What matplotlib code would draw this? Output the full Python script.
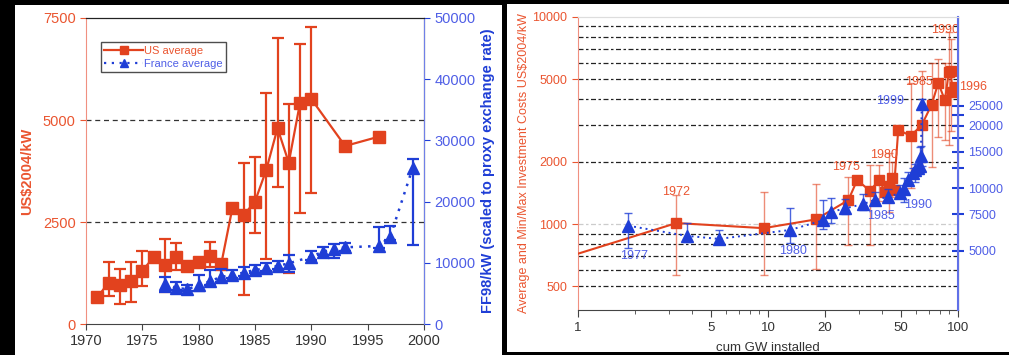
import numpy as np
import matplotlib.pyplot as plt
from matplotlib.patches import Rectangle
from matplotlib.ticker import FixedLocator, NullFormatter
from matplotlib.lines import Line2D

plt.rcParams['font.family'] = ['Liberation Sans', 'DejaVu Sans']

RED = '#e2421e'
RED_TXT = '#ea5530'
BLUE = '#1f3ed6'
BLUE_TXT = '#4f5ee6'
nan = np.nan

# US reactors: average cost (US$2004/kW) with min/max range
us_years = [1971, 1972, 1973, 1974, 1975, 1976, 1977, 1978, 1979, 1980, 1981,
            1982, 1983, 1984, 1985, 1986, 1987, 1988, 1989, 1990, 1993, 1996]
us_cost = [650, 1012, 956, 1054, 1306, 1634, 1446, 1634, 1422, 1527, 1667,
           1463, 2850, 2670, 3000, 3775, 4800, 3955, 5424, 5515, 4363, 4592]
us_min = [nan, 686, 483, 547, 931, nan, 777, 1324, nan, nan, 1405,
          nan, nan, 711, 2223, 1585, 3365, 1242, 2730, 3203, nan, nan]
us_max = [nan, 1527, 1340, 1527, 1797, nan, 2075, 1993, nan, nan, 2017,
          nan, nan, 3938, 4104, 5674, 7000, 5392, 6863, 7270, nan, nan]

# US cumulative capacity (GW) and min/max used in the learning curve
us_cum_gw = [0.7, 3.3, 9.5, 17.9, 26.5, 29.5, 34.4, 38.5, 41.5, 43.5, 44.7,
             46.0, 48.5, 56.4, 64.4, 72.7, 78.8, 85.4, 89.5, 91.5, 93.5, 96.0]
us_min_lc = [nan, 570, 571, 604, 792, nan, 792, 1300, nan, 1150, 1350,
             nan, nan, 1500, 1800, 1893, 2625, 2545, 2400, 2800, nan, nan]
us_max_lc = [nan, 1380, 1433, 1560, 1680, nan, 1928, 1928, nan, 2196, 2000,
             nan, nan, 4800, 5500, 5970, 6242, 6000, 8500, 7800, nan, nan]

# French reactors: average cost (FF98/kW) with min/max range
fr_years = [1977, 1978, 1979, 1980, 1981, 1982, 1983, 1984, 1985, 1986, 1987,
            1988, 1990, 1991, 1992, 1993, 1996, 1997, 1999]
fr_cost = [6600, 5900, 5700, 6300, 7000, 7700, 8000, 8400, 8820, 9100, 9480,
           9910, 11000, 11800, 12200, 12530, 12750, 14270, 25500]
fr_min = [5180, 5500, 5400, 5440, 6370, 6800, 7500, 7900, 8300, 8600, 9000,
          8550, 10500, 11300, 10730, 12000, 12400, 13800, 12860]
fr_max = [7630, 6800, 6300, 8010, 8820, 8990, 8900, 9360, 9640, 9910, 10340,
          11270, 11930, 12530, 13070, 13290, 15800, 16010, 27000]
fr_cum_gw = [1.84, 3.73, 5.52, 13.1, 19.4, 21.6, 25.4, 31.8, 36.6, 43.0, 49.4,
             52.0, 54.6, 57.8, 59.5, 61.3, 63.0, 63.8, 64.5]

us_labels = [1972, 1975, 1980, 1985, 1990, 1996]
us_label_offsets = [(0, 22), (-2, 24), (-4, 22), (-2, 31), (-4, 29), (3, 0)]
fr_labels = [1977, 1980, 1985, 1990, 1999]
fr_label_offsets = [(4, -22), (2, -15), (4, -12), (7, -18), (-13, 2)]


def err(vals, lo, hi):
    vals, lo, hi = map(np.asarray, (vals, lo, hi))
    m = ~np.isnan(lo)
    return m, np.vstack([vals[m] - lo[m], hi[m] - vals[m]])


fig = plt.figure(figsize=(10.09, 3.55), dpi=100)
fig.patch.set_facecolor('black')
fig.add_artist(Rectangle((0.0149, 0.0), 0.4826, 0.986, transform=fig.transFigure,
                         facecolor='white', edgecolor='none', zorder=-1))
fig.add_artist(Rectangle((0.5025, 0.008), 0.4975, 0.98, transform=fig.transFigure,
                         facecolor='white', edgecolor='none', zorder=-1))

# ---- left: cost by year ----
ax = fig.add_axes([0.0852, 0.0873, 0.335, 0.862])
axr = ax.twinx()
ax.set_xlim(1970, 2000)
ax.set_ylim(0, 7500)
axr.set_ylim(0, 50000)

for y in (2500, 5000):
    ax.axhline(y, color='#333333', lw=0.9, ls=(0, (4, 3)), zorder=1)

years = np.array(us_years)
m, e = err(us_cost, us_min, us_max)
ax.errorbar(years[m], np.array(us_cost)[m], yerr=e, fmt='none', ecolor=RED,
            elinewidth=1.6, capsize=4, capthick=1.6, zorder=3)
ax.plot(us_years, us_cost, color=RED, lw=1.6, marker='s', ms=9, zorder=4)

fyears = np.array(fr_years)
m, e = err(fr_cost, fr_min, fr_max)
axr.errorbar(fyears, fr_cost, yerr=e, fmt='none', ecolor=BLUE,
             elinewidth=1.6, capsize=4, capthick=1.6, zorder=3)
axr.plot(fr_years, fr_cost, color=BLUE, lw=1.8, ls=(0, (1, 2.5)), marker='^', ms=9, zorder=4)

ax.set_xticks(range(1970, 2001, 5))
ax.set_yticks([0, 2500, 5000, 7500])
axr.set_yticks(range(0, 50001, 10000))
ax.tick_params(axis='x', colors='#444444', labelsize=10.5, length=4, labelcolor='#333333')
ax.tick_params(axis='y', colors=RED_TXT, labelsize=10.5, length=4)
axr.tick_params(axis='y', colors=BLUE, labelsize=10.5, length=4, labelcolor=BLUE_TXT)
ax.spines['left'].set_color('#f09080')
ax.spines['bottom'].set_color('#444444')
ax.spines['top'].set_color('#222222')
axr.spines['right'].set_color('#7080e8')
axr.spines['left'].set_visible(False)
axr.spines['top'].set_color('#222222')
axr.spines['bottom'].set_visible(False)
ax.set_ylabel('US$2004/kW', color=RED_TXT, fontsize=10.5, fontweight='bold', labelpad=6)
axr.set_ylabel('FF98/kW (scaled to proxy exchange rate)', color=BLUE, fontsize=10.5,
               fontweight='bold', labelpad=4)

handles = [Line2D([], [], color=RED, lw=1.6, marker='s', ms=6),
           Line2D([], [], color=BLUE, lw=1.6, ls=(0, (1, 2.5)), marker='^', ms=6)]
leg = axr.legend(handles, ['US average', 'France average'], loc='upper left',
                 bbox_to_anchor=(0.044, 0.92), fontsize=8, frameon=True, fancybox=False,
                 edgecolor='#222222', borderpad=0.3, handlelength=3.5, handletextpad=0.1,
                 labelspacing=0.3, borderaxespad=0)
leg.get_frame().set_linewidth(1.0)
for t, c in zip(leg.get_texts(), (RED_TXT, BLUE_TXT)):
    t.set_color(c)

# ---- right: learning curve vs cumulative capacity ----
K = 6.72
bx = fig.add_axes([0.5728, 0.1268, 0.3766, 0.8254])
bxr = bx.twinx()
bx.set_xscale('log')
bx.set_yscale('log')
bxr.set_yscale('log')
bx.set_xlim(1, 100)
bx.set_ylim(385, 10000)
bxr.set_ylim(385 * K, 10000 * K)

for v in [500, 600, 700, 800, 900, 2000, 3000, 4000, 5000, 6000, 7000, 8000, 9000]:
    bx.axhline(v, color='#222222', lw=0.9, ls=(0, (4, 2, 2, 2)), zorder=1)
bx.axhline(1000, color='#cccccc', lw=0.9, ls=(0, (4, 2, 2, 2)), zorder=1)

gw = np.array(us_cum_gw)
m, e = err(us_cost, us_min_lc, us_max_lc)
bx.errorbar(gw[m], np.array(us_cost)[m], yerr=e, fmt='none', ecolor=RED, alpha=0.6,
            elinewidth=1.0, capsize=3, capthick=1.0, zorder=2)
bx.plot(us_cum_gw, us_cost, color=RED, lw=1.5, marker='s', ms=7, zorder=4)

fgw = np.array(fr_cum_gw)
m, e = err(fr_cost, fr_min, fr_max)
bxr.errorbar(fgw, fr_cost, yerr=e, fmt='none', ecolor=BLUE, alpha=0.8,
             elinewidth=1.0, capsize=3, capthick=1.0, zorder=2)
bxr.plot(fr_cum_gw, fr_cost, color=BLUE, lw=1.4, ls=(0, (1, 2)), marker='^', ms=8, zorder=4)

for yr, off in zip(us_labels, us_label_offsets):
    i = us_years.index(yr)
    bx.annotate(str(yr), (us_cum_gw[i], us_cost[i]), xytext=off, textcoords='offset points',
                ha='left' if yr == 1996 else 'center', va='center', color=RED_TXT,
                fontsize=9, annotation_clip=False, zorder=6)
for yr, off in zip(fr_labels, fr_label_offsets):
    i = fr_years.index(yr)
    bxr.annotate(str(yr), (fr_cum_gw[i], fr_cost[i]), xytext=off, textcoords='offset points',
                 ha='right' if yr == 1999 else 'center', va='center', color=BLUE_TXT,
                 fontsize=9, zorder=6)

bx.xaxis.set_major_locator(FixedLocator([1, 5, 10, 20, 50, 100]))
bx.xaxis.set_major_formatter(plt.FixedFormatter(['1', '5', '10', '20', '50', '100']))
bx.xaxis.set_minor_locator(FixedLocator([2, 3, 4, 6, 7, 8, 9, 30, 40, 60, 70, 80, 90]))
bx.xaxis.set_minor_formatter(NullFormatter())
bx.yaxis.set_major_locator(FixedLocator([500, 1000, 2000, 5000, 10000]))
bx.yaxis.set_major_formatter(plt.FixedFormatter(['500', '1000', '2000', '5000', '10000']))
bx.yaxis.set_minor_locator(FixedLocator([]))
bxr.yaxis.set_major_locator(FixedLocator([5000, 7500, 10000, 15000, 20000, 25000]))
bxr.yaxis.set_major_formatter(plt.FixedFormatter(['5000', '7500', '10000', '15000', '20000', '25000']))
bxr.yaxis.set_minor_locator(FixedLocator([12500, 17500, 22500]))
bxr.yaxis.set_minor_formatter(NullFormatter())

bx.tick_params(axis='x', which='both', colors='#444444', labelsize=9.5, labelcolor='#333333')
bx.tick_params(axis='x', which='major', length=5)
bx.tick_params(axis='x', which='minor', length=3)
bx.tick_params(axis='y', colors=RED_TXT, labelsize=9, length=4)
bxr.tick_params(axis='y', which='both', colors=BLUE, direction='inout', length=8, width=1.5,
                labelsize=9, labelcolor=BLUE_TXT)
bx.spines['left'].set_color('#f09080')
bx.spines['bottom'].set_color('#444444')
bx.spines['top'].set_color('#dddddd')
bxr.spines['top'].set_color('#dddddd')
bxr.spines['right'].set_color('#6070e8')
bxr.spines['right'].set_linewidth(1.5)
bxr.spines['left'].set_visible(False)
bxr.spines['bottom'].set_visible(False)
bx.set_xlabel('cum GW installed', fontsize=9.5, color='#333333', labelpad=6)
bx.set_ylabel('Average and Min/Max Investment Costs US$2004/kW', color=RED_TXT,
              fontsize=9, labelpad=2)

fig.savefig('out.png', dpi=100, facecolor=fig.get_facecolor())
